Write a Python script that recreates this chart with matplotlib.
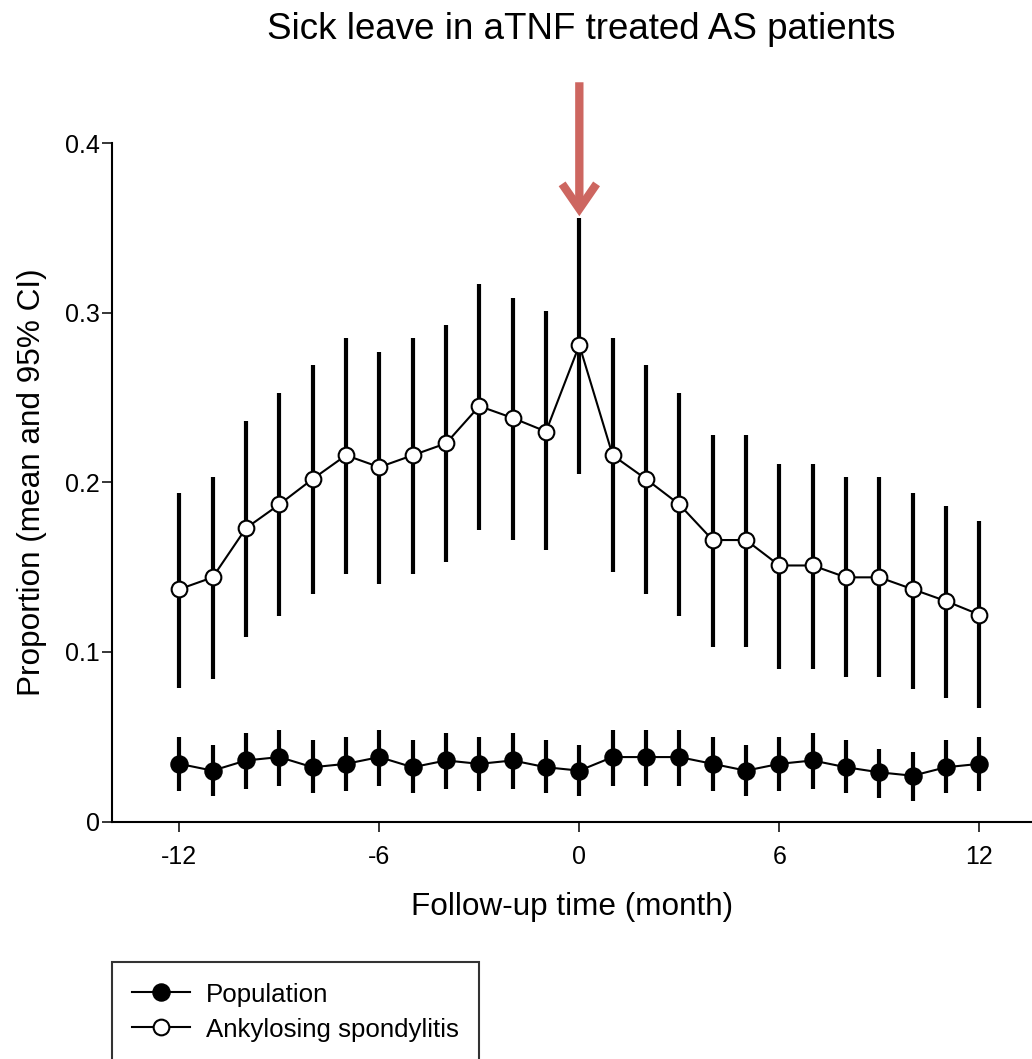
import numpy as np
import matplotlib
matplotlib.use("Agg")
import matplotlib.pyplot as plt
from matplotlib.lines import Line2D

plt.rcParams['font.family'] = ['Liberation Sans', 'DejaVu Sans']

months = list(range(-12, 13))
xticks = [-12, -6, 0, 6, 12]
yticks = [0, 0.1, 0.2, 0.3, 0.4]
ytick_labels = ["0", "0.1", "0.2", "0.3", "0.4"]

# Ankylosing spondylitis: mean, lower CI, upper CI
as_mean = [0.137, 0.144, 0.173, 0.187, 0.202, 0.216, 0.209, 0.216, 0.223, 0.245, 0.238, 0.230,
           0.281, 0.216, 0.202, 0.187, 0.166, 0.166, 0.151, 0.151, 0.144, 0.144, 0.137, 0.130, 0.122]
as_low = [0.079, 0.084, 0.109, 0.121, 0.134, 0.146, 0.140, 0.146, 0.153, 0.172, 0.166, 0.160,
          0.205, 0.147, 0.134, 0.121, 0.103, 0.103, 0.090, 0.090, 0.085, 0.085, 0.078, 0.073, 0.067]
as_high = [0.194, 0.203, 0.236, 0.253, 0.269, 0.285, 0.277, 0.285, 0.293, 0.317, 0.309, 0.301,
           0.356, 0.285, 0.269, 0.253, 0.228, 0.228, 0.211, 0.211, 0.203, 0.203, 0.194, 0.186, 0.177]

# Population: mean, lower CI, upper CI
pop_mean = [0.034, 0.030, 0.036, 0.038, 0.032, 0.034, 0.038, 0.032, 0.036, 0.034, 0.036, 0.032,
            0.030, 0.038, 0.038, 0.038, 0.034, 0.030, 0.034, 0.036, 0.032, 0.029, 0.027, 0.032, 0.034]
pop_low = [0.018, 0.015, 0.019, 0.021, 0.017, 0.018, 0.021, 0.017, 0.019, 0.018, 0.019, 0.017,
           0.015, 0.021, 0.021, 0.021, 0.018, 0.015, 0.018, 0.019, 0.017, 0.014, 0.012, 0.017, 0.018]
pop_high = [0.050, 0.045, 0.052, 0.054, 0.048, 0.050, 0.054, 0.048, 0.052, 0.050, 0.052, 0.048,
            0.045, 0.054, 0.054, 0.054, 0.050, 0.045, 0.050, 0.052, 0.048, 0.043, 0.041, 0.048, 0.050]

title = "Sick leave in aTNF treated AS patients"
xlabel = "Follow-up time (month)"
ylabel = "Proportion (mean and 95% CI)"
legend_labels = ["Population", "Ankylosing spondylitis"]
arrow_tip = 0.357
arrow_start = 0.436

W, H = 1032, 1059
fig = plt.figure(figsize=(W / 100, H / 100), dpi=100)
ax = fig.add_axes([112 / W, 1 - 821.5 / H, 1 - 112 / W, (821.5 - 143.3) / H])

x = np.array(months)
am, al, ah = map(np.array, (as_mean, as_low, as_high))
pm, pl, ph = map(np.array, (pop_mean, pop_low, pop_high))

ax.errorbar(x, am, yerr=[am - al, ah - am], fmt='-o', color='black', ecolor='black',
            elinewidth=3, capsize=0, lw=1.5, ms=11.3, mfc='white', mec='black', mew=1.5, zorder=3)
ax.errorbar(x, pm, yerr=[pm - pl, ph - pm], fmt='-o', color='black', ecolor='black',
            elinewidth=3, capsize=0, lw=1.5, ms=12.3, mfc='black', mec='black', mew=1.0, zorder=3)

ax.set_xlim(-14.02, 13.58)
ax.set_ylim(0, 0.4)
ax.set_xticks(xticks)
ax.set_xticklabels([str(v) for v in xticks])
ax.set_yticks(yticks)
ax.set_yticklabels(ytick_labels)

for s in ['top', 'right']:
    ax.spines[s].set_visible(False)
for s in ['left', 'bottom']:
    ax.spines[s].set_linewidth(1.5)

ax.tick_params(axis='both', direction='out', length=7.2, width=1.1, labelsize=18)
ax.tick_params(axis='x', pad=9.5)
ax.tick_params(axis='y', pad=1.5)

ax.set_xlabel(xlabel, fontsize=22.7, labelpad=17)
ax.set_ylabel(ylabel, fontsize=22.7, labelpad=13)

fig.text(266.7 / W, 1 - 39 / H, title, fontsize=26.5, ha='left', va='baseline')

ax.annotate('', xy=(0, arrow_tip), xytext=(0, arrow_start), xycoords='data',
            annotation_clip=False,
            arrowprops=dict(arrowstyle='->,head_length=0.9,head_width=0.62', lw=6,
                            color='#CD6660', mutation_scale=20, shrinkA=0, shrinkB=0,
                            capstyle='butt', joinstyle='miter', clip_on=False))

handles = [
    Line2D([], [], color='black', lw=1.5, marker='o', ms=12.3, mfc='black', mec='black'),
    Line2D([], [], color='black', lw=1.5, marker='o', ms=11.3, mfc='white', mec='black', mew=1.5),
]
leg = fig.legend(handles, legend_labels, loc='upper left',
                 bbox_to_anchor=(112 / W, 1 - 962 / H), bbox_transform=fig.transFigure,
                 borderaxespad=0, fontsize=18.6, frameon=True, fancybox=False,
                 edgecolor='black', borderpad=0.78, handlelength=2.25, handletextpad=0.6,
                 labelspacing=0.42, handleheight=0.9)
leg.get_frame().set_linewidth(1.5)

fig.savefig('out.png', dpi=100)
